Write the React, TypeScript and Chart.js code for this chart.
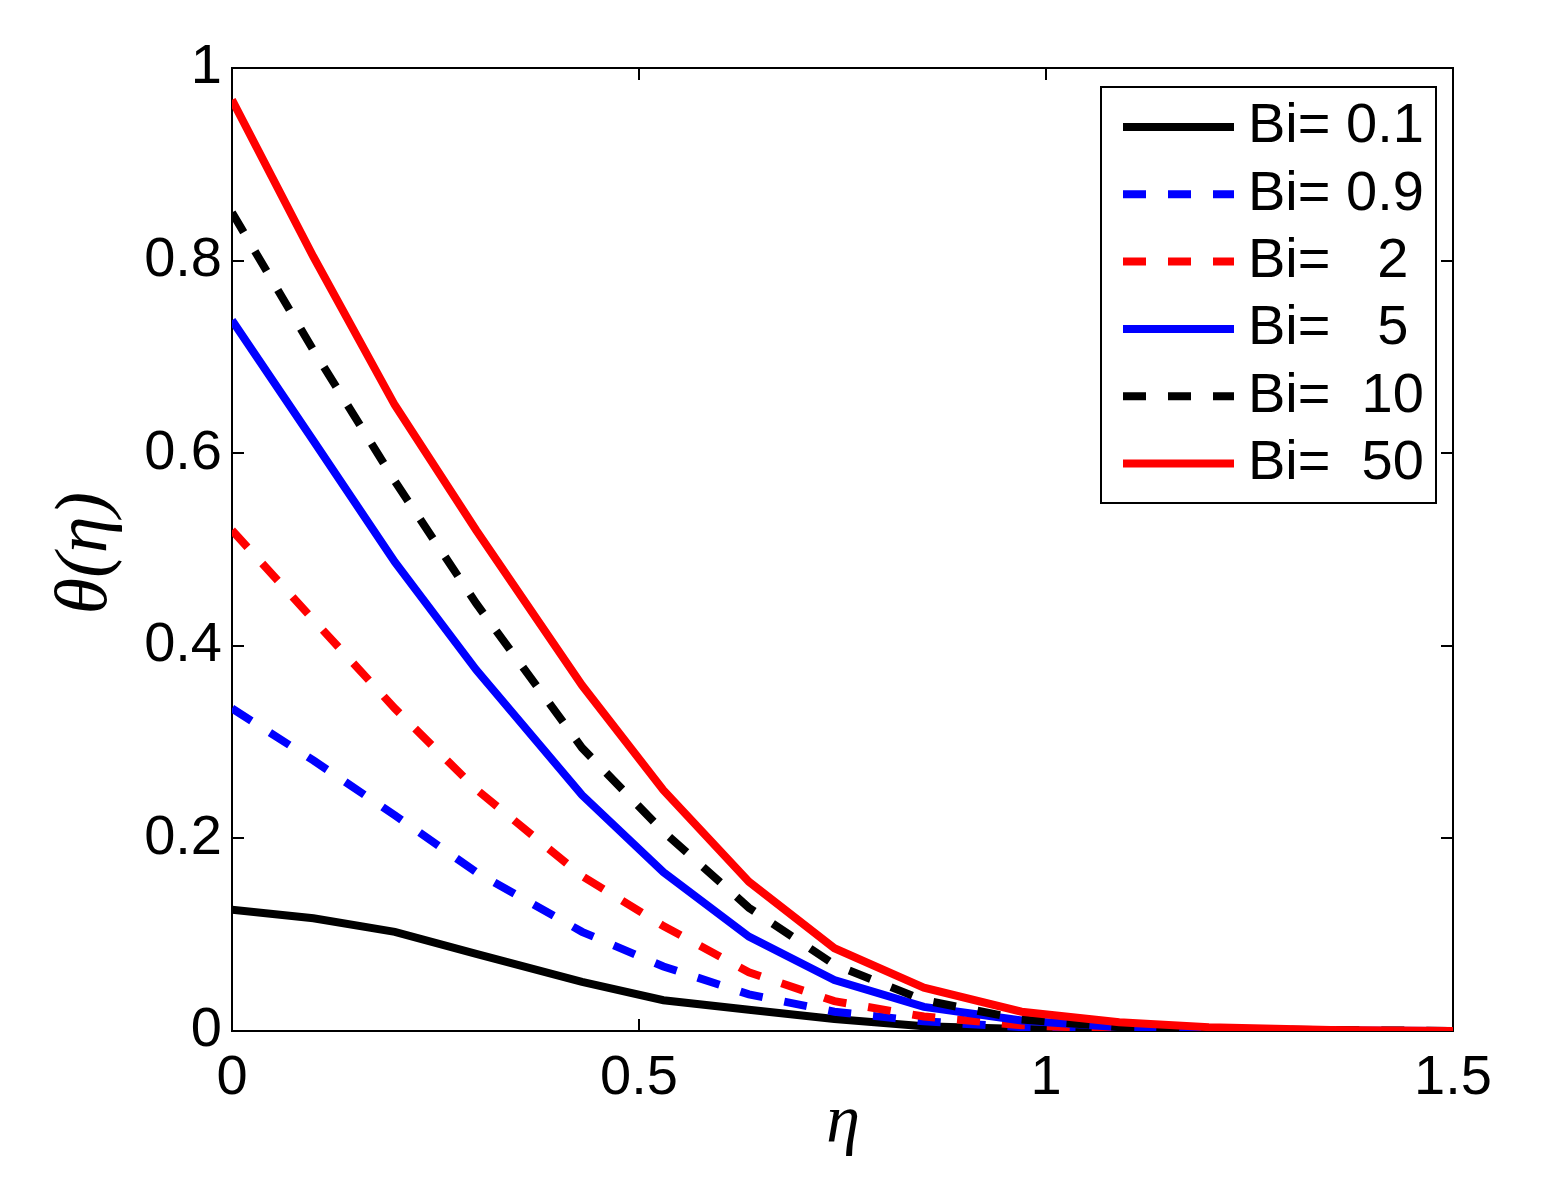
import React, { useEffect, useRef } from 'react';
import Chart from 'chart.js/auto';

// eta mesh and theta(eta) values
const eta = [0, 0.1, 0.2, 0.3, 0.43, 0.53, 0.635, 0.74, 0.85, 0.97, 1.09, 1.2, 1.35, 1.5];
const bi01 = [0.126, 0.117, 0.103, 0.080, 0.051, 0.032, 0.022, 0.0125, 0.005, 0.002, 0.001, 0.0005, 0, 0];
const bi09 = [0.335, 0.281, 0.224, 0.165, 0.103, 0.067, 0.038, 0.020, 0.010, 0.004, 0.0015, 0.0005, 0, 0];
const bi2 = [0.520, 0.427, 0.335, 0.251, 0.161, 0.109, 0.061, 0.031, 0.015, 0.006, 0.002, 0.001, 0, 0];
const bi5 = [0.738, 0.613, 0.487, 0.375, 0.245, 0.165, 0.098, 0.053, 0.025, 0.011, 0.004, 0.002, 0.0005, 0];
const bi10 = [0.850, 0.707, 0.571, 0.444, 0.294, 0.207, 0.128, 0.069, 0.032, 0.012, 0.004, 0.002, 0.001, 0];
const bi50 = [0.967, 0.804, 0.650, 0.520, 0.359, 0.250, 0.155, 0.086, 0.045, 0.020, 0.009, 0.004, 0.001, 0];

const labels = ['Bi= 0.1', 'Bi= 0.9', 'Bi=   2', 'Bi=   5', 'Bi=  10', 'Bi=  50'];
const colors = ['#000000', '#0000ff', '#ff0000', '#0000ff', '#000000', '#ff0000'];
const dashed = [false, true, true, false, true, false];
const series = [bi01, bi09, bi2, bi5, bi10, bi50];

const xTicks = [0, 0.5, 1, 1.5];
const yTicks = [0, 0.2, 0.4, 0.6, 0.8, 1];

const DASH = [23, 22];
const SANS = '"Liberation Sans", Arial, Helvetica, sans-serif';
const SERIF = '"Liberation Serif", "Times New Roman", serif';

const framePlugin = {
  id: 'frame',
  beforeDatasetsDraw(chart: any) {
    const { ctx, chartArea: a, scales } = chart;
    ctx.save();
    ctx.strokeStyle = '#000';
    ctx.lineWidth = 2;
    ctx.setLineDash([]);
    ctx.strokeRect(a.left, a.top, a.right - a.left, a.bottom - a.top);
    ctx.beginPath();
    xTicks.forEach((v) => {
      const px = Math.round(scales.x.getPixelForValue(v));
      ctx.moveTo(px, a.bottom);
      ctx.lineTo(px, a.bottom - 12);
      ctx.moveTo(px, a.top);
      ctx.lineTo(px, a.top + 12);
    });
    yTicks.forEach((v) => {
      const py = Math.round(scales.y.getPixelForValue(v));
      ctx.moveTo(a.left, py);
      ctx.lineTo(a.left + 12, py);
      ctx.moveTo(a.right, py);
      ctx.lineTo(a.right - 12, py);
    });
    ctx.stroke();
    ctx.restore();
  },
};

const overlayPlugin = {
  id: 'overlay',
  afterDraw(chart: any) {
    const { ctx } = chart;
    ctx.save();

    // axis titles
    ctx.fillStyle = '#000';
    ctx.font = `italic 68px ${SERIF}`;
    ctx.textAlign = 'center';
    ctx.textBaseline = 'alphabetic';
    ctx.fillText('η', 843, 1142);

    ctx.save();
    ctx.translate(106, 553);
    ctx.rotate(-Math.PI / 2);
    ctx.font = `italic 74px ${SERIF}`;
    ctx.fillText('θ(η)', 0, 0);
    ctx.restore();

    // legend
    const bx = 1101, by = 87, bw = 335, bh = 416;
    ctx.fillStyle = '#fff';
    ctx.fillRect(bx, by, bw, bh);
    ctx.strokeStyle = '#000';
    ctx.lineWidth = 2;
    ctx.strokeRect(bx, by, bw, bh);

    chart.data.datasets.forEach((ds: any, i: number) => {
      const ly = 127 + 67.3 * i;
      ctx.beginPath();
      ctx.strokeStyle = ds.borderColor;
      ctx.lineWidth = ds.borderWidth;
      ctx.setLineDash(ds.borderDash || []);
      ctx.moveTo(1123, ly);
      ctx.lineTo(1234, ly);
      ctx.stroke();
      ctx.setLineDash([]);
      ctx.fillStyle = '#000';
      ctx.font = `56px ${SANS}`;
      ctx.textAlign = 'left';
      ctx.textBaseline = 'middle';
      ctx.fillText(ds.label, 1248, ly);
    });

    ctx.restore();
  },
};

const App: React.FC = () => {
  const canvasRef = useRef<HTMLCanvasElement | null>(null);

  useEffect(() => {
    let chart: Chart | null = null;
    if (canvasRef.current) {
      chart = new Chart(canvasRef.current, {
        type: 'line',
        data: {
          datasets: series.map((vals, i) => ({
            label: labels[i],
            data: eta.map((e, j) => ({ x: e, y: vals[j] })),
            borderColor: colors[i],
            backgroundColor: colors[i],
            borderWidth: 8,
            borderDash: dashed[i] ? DASH : [],
            pointRadius: 0,
            tension: 0,
            fill: false,
            order: series.length - i,
          })),
        },
        options: {
          animation: false,
          responsive: false,
          devicePixelRatio: 1,
          layout: { padding: { left: 0, top: 68, right: 89, bottom: 0 } },
          plugins: {
            legend: { display: false },
            tooltip: { enabled: false },
          },
          scales: {
            x: {
              type: 'linear',
              min: 0,
              max: 1.5,
              afterFit: (s: any) => { s.height = 173; },
              afterBuildTicks: (s: any) => { s.ticks = xTicks.map((v) => ({ value: v })); },
              grid: { display: false, drawTicks: false },
              border: { display: false },
              ticks: {
                padding: 14,
                color: '#000',
                font: { size: 56, family: SANS },
                maxRotation: 0,
                callback: (v: any) => String(v),
              },
            },
            y: {
              type: 'linear',
              min: 0,
              max: 1,
              afterFit: (s: any) => { s.width = 232; },
              afterBuildTicks: (s: any) => { s.ticks = yTicks.map((v) => ({ value: v })); },
              grid: { display: false, drawTicks: false },
              border: { display: false },
              ticks: {
                padding: 10,
                color: '#000',
                font: { size: 56, family: SANS },
                callback: (v: any) => String(v),
              },
            },
          },
        },
        plugins: [framePlugin, overlayPlugin],
      });
    }
    return () => {
      if (chart) chart.destroy();
    };
  }, []);

  return (
    <div style={{ position: 'absolute', left: 0, top: 0, width: 1542, height: 1204, background: '#fff' }}>
      <canvas ref={canvasRef} width={1542} height={1204} />
    </div>
  );
};

export default App;
